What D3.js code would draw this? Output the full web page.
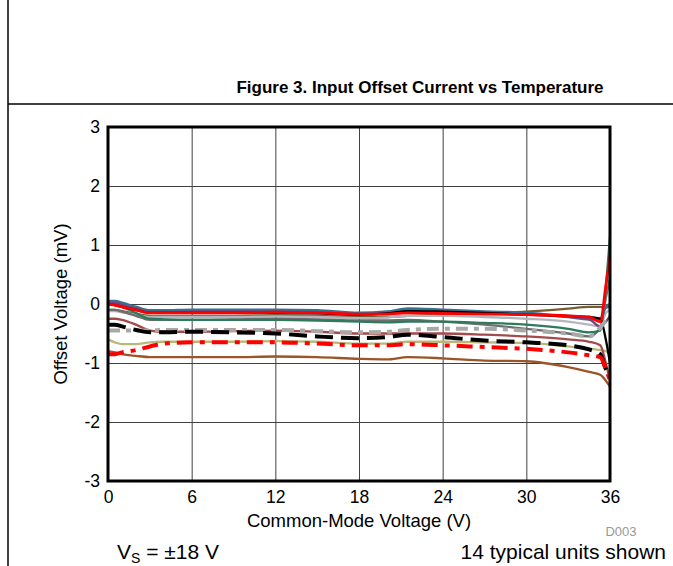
<!DOCTYPE html>
<html><head><meta charset="utf-8">
<script src="https://cdn.jsdelivr.net/npm/d3@7"></script>
<style>body{margin:0;background:#fff}svg{display:block;font-family:"Liberation Sans",Arial,sans-serif}</style>
</head><body><svg id="c" width="673" height="566"></svg>
<script>
const xTicks = [0, 6, 12, 18, 24, 30, 36];
const yTicks = [-3, -2, -1, 0, 1, 2, 3];
const vcm = [0,0.5,1,2,3,4,6,9,12,15,18,20,21.5,24,27,30,33,34.5,35.3,35.7,36];
const teal = [0.05,0.05,0.02,-0.05,-0.11,-0.11,-0.1,-0.1,-0.1,-0.11,-0.15,-0.13,-0.08,-0.1,-0.13,-0.15,-0.22,-0.26,-0.25,-0.05,0.0];
const purple = [0.02,0.02,-0.02,-0.08,-0.14,-0.14,-0.13,-0.13,-0.13,-0.14,-0.17,-0.16,-0.12,-0.13,-0.16,-0.18,-0.22,-0.26,-0.38,-0.3,-0.2];
const redSolid = [0.0,-0.02,-0.05,-0.1,-0.15,-0.15,-0.15,-0.15,-0.14,-0.15,-0.17,-0.17,-0.15,-0.16,-0.17,-0.18,-0.2,-0.22,-0.3,0.3,0.8];
const blackSolid = [0.0,-0.02,-0.05,-0.1,-0.15,-0.15,-0.15,-0.15,-0.15,-0.16,-0.18,-0.16,-0.12,-0.13,-0.15,-0.18,-0.2,-0.22,-0.25,-0.6,-1.0];
const green = [0.0,-0.02,-0.05,-0.15,-0.25,-0.26,-0.27,-0.27,-0.27,-0.28,-0.3,-0.31,-0.3,-0.3,-0.32,-0.35,-0.42,-0.48,-0.45,0.3,1.15];
const olive = [-0.1,-0.1,-0.12,-0.17,-0.2,-0.2,-0.2,-0.2,-0.19,-0.2,-0.22,-0.22,-0.2,-0.18,-0.15,-0.13,-0.08,-0.05,-0.05,-0.06,-0.05];
const gray = [-0.1,-0.1,-0.13,-0.2,-0.27,-0.27,-0.27,-0.26,-0.25,-0.26,-0.28,-0.28,-0.27,-0.3,-0.35,-0.42,-0.5,-0.55,-0.4,0.1,0.45];
const silver = [-0.12,-0.12,-0.14,-0.18,-0.22,-0.22,-0.22,-0.22,-0.21,-0.22,-0.24,-0.23,-0.2,-0.2,-0.22,-0.25,-0.3,-0.35,-0.38,-0.15,-0.1];
const rosy = [-0.25,-0.25,-0.27,-0.35,-0.45,-0.47,-0.47,-0.46,-0.45,-0.47,-0.5,-0.5,-0.5,-0.5,-0.52,-0.55,-0.6,-0.64,-0.7,-1.0,-1.3];
const blackDash = [-0.35,-0.35,-0.38,-0.44,-0.48,-0.48,-0.47,-0.48,-0.5,-0.55,-0.58,-0.56,-0.52,-0.56,-0.62,-0.65,-0.7,-0.77,-0.85,-1.1,-1.2];
const grayDash = [-0.45,-0.45,-0.45,-0.45,-0.45,-0.44,-0.44,-0.44,-0.44,-0.46,-0.48,-0.47,-0.44,-0.42,-0.42,-0.45,-0.5,-0.55,-0.4,-0.3,-0.3];
const khaki = [-0.6,-0.65,-0.68,-0.68,-0.65,-0.64,-0.64,-0.64,-0.63,-0.64,-0.67,-0.67,-0.64,-0.64,-0.65,-0.66,-0.72,-0.76,-0.78,-0.8,-0.85];
const redDashDot = [-0.85,-0.85,-0.82,-0.78,-0.72,-0.67,-0.65,-0.65,-0.65,-0.67,-0.7,-0.7,-0.68,-0.7,-0.73,-0.76,-0.82,-0.87,-0.9,-1.1,-1.3];
const sienna = [-0.8,-0.82,-0.85,-0.88,-0.9,-0.9,-0.9,-0.9,-0.89,-0.9,-0.93,-0.94,-0.9,-0.92,-0.96,-0.97,-1.07,-1.15,-1.2,-1.3,-1.4];

const series = [
  {v: sienna, c: "#9b5529", w: 2.3, d: null},
  {v: khaki, c: "#b8b87a", w: 2.3, d: null},
  {v: rosy, c: "#a44a4a", w: 2.3, d: null},
  {v: olive, c: "#7a5c33", w: 2.3, d: null},
  {v: silver, c: "#b4b4bc", w: 2.3, d: null},
  {v: gray, c: "#6e6e6e", w: 2.3, d: null},
  {v: green, c: "#2f7a5c", w: 2.3, d: null},
  {v: teal, c: "#3a7090", w: 2.8, d: null},
  {v: purple, c: "#7b3f7f", w: 2.3, d: null},
  {v: blackSolid, c: "#000000", w: 2.3, d: null},
  {v: redSolid, c: "#ff0000", w: 2.8, d: null},
  {v: grayDash, c: "#a8a8a8", w: 4, d: "12,6,5,6"},
  {v: blackDash, c: "#000000", w: 4, d: "18,8"},
  {v: redDashDot, c: "#ff0000", w: 4, d: "16,7,5,7"}
];

const svg = d3.select("#c");
const L = 108, R = 610, T = 127, B = 481;
const x = d3.scaleLinear().domain([0, 36]).range([L, R]);
const y = d3.scaleLinear().domain([-3, 3]).range([B, T]);
const fmt = d => String(d);

// page frame lines
svg.append("line").attr("x1", 8).attr("x2", 8).attr("y1", 0).attr("y2", 566).attr("stroke", "#000").attr("stroke-width", 1.5);
svg.append("line").attr("x1", 8).attr("x2", 673).attr("y1", 104).attr("y2", 104).attr("stroke", "#000").attr("stroke-width", 1.5);

svg.append("text").attr("x", 420).attr("y", 93).attr("text-anchor", "middle")
  .attr("font-weight", "bold").attr("font-size", 17).text("Figure 3. Input Offset Current vs Temperature");

// grid
const g = svg.append("g");
g.append("g").attr("transform", `translate(0,${B})`)
  .call(d3.axisBottom(x).tickValues(xTicks).tickSize(-(B - T)).tickFormat(""))
  .call(s => { s.select(".domain").remove(); s.selectAll("line").attr("stroke", "#404040").attr("stroke-width", 1); });
g.append("g").attr("transform", `translate(${L},0)`)
  .call(d3.axisLeft(y).tickValues(yTicks).tickSize(-(R - L)).tickFormat(""))
  .call(s => { s.select(".domain").remove(); s.selectAll("line").attr("stroke", "#404040").attr("stroke-width", 1); });

// tick labels
svg.append("g").attr("transform", `translate(0,${B})`)
  .call(d3.axisBottom(x).tickValues(xTicks).tickSize(0).tickPadding(10).tickFormat(fmt))
  .call(s => { s.select(".domain").remove(); s.selectAll("text").attr("font-size", 17.5).attr("font-family", "Liberation Sans, Arial, sans-serif").attr("fill", "#000"); });
svg.append("g").attr("transform", `translate(${L},0)`)
  .call(d3.axisLeft(y).tickValues(yTicks).tickSize(0).tickPadding(8).tickFormat(fmt))
  .call(s => { s.select(".domain").remove(); s.selectAll("text").attr("font-size", 17.5).attr("font-family", "Liberation Sans, Arial, sans-serif").attr("fill", "#000"); });

// lines
svg.append("clipPath").attr("id", "pc").append("rect").attr("x", L).attr("y", T).attr("width", R - L).attr("height", B - T);
const line = d3.line().x((d, i) => x(vcm[i])).y(d => y(d)).curve(d3.curveMonotoneX);
const lg = svg.append("g").attr("clip-path", "url(#pc)");
series.forEach(s => {
  lg.append("path").attr("d", line(s.v)).attr("fill", "none").attr("stroke", s.c)
    .attr("stroke-width", s.w).attr("stroke-dasharray", s.d).attr("stroke-linejoin", "round");
});

// frame
svg.append("rect").attr("x", L).attr("y", T).attr("width", R - L).attr("height", B - T)
  .attr("fill", "none").attr("stroke", "#000").attr("stroke-width", 3);

// axis titles
svg.append("text").attr("x", (L + R) / 2).attr("y", 527).attr("text-anchor", "middle").attr("font-size", 18.5).text("Common-Mode Voltage (V)");
svg.append("text").attr("transform", `translate(67,${(T + B) / 2}) rotate(-90)`).attr("text-anchor", "middle").attr("font-size", 18.5).text("Offset Voltage (mV)");

svg.append("text").attr("x", 621).attr("y", 536).attr("text-anchor", "middle").attr("font-size", 13).attr("fill", "#999").text("D003");

const vs = svg.append("text").attr("x", 117).attr("y", 559).attr("font-size", 21);
vs.append("tspan").text("V");
vs.append("tspan").attr("font-size", 14).attr("dy", 4).text("S");
vs.append("tspan").attr("dy", -4).text(" = ±18 V");
svg.append("text").attr("x", 666).attr("y", 559).attr("text-anchor", "end").attr("font-size", 21).text("14 typical units shown");
</script></body></html>
